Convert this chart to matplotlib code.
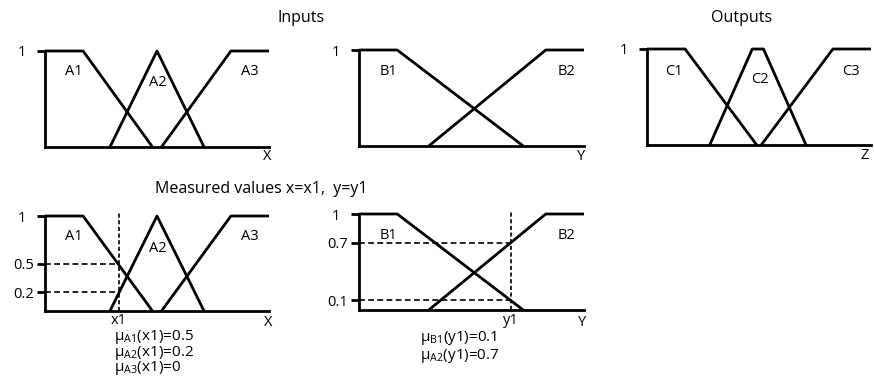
import matplotlib.pyplot as plt

plt.rcParams["font.family"] = ["Open Sans", "DejaVu Sans"]
plt.rcParams["mathtext.fontset"] = "custom"
plt.rcParams["mathtext.rm"] = "Open Sans"
plt.rcParams["font.size"] = 10.5

W, H = 874, 381
LW = 2.0

# membership functions, breakpoints on a 0..10 universe
a1_x, a1_y = [0, 1.7, 4.8], [1, 1, 0]
a2_x, a2_y = [2.9, 5.0, 7.1], [0, 1, 0]
a3_x, a3_y = [5.2, 8.3, 10], [0, 1, 1]

b1_x, b1_y = [0, 1.7, 7.3], [1, 1, 0]
b2_x, b2_y = [3.1, 8.3, 10], [0, 1, 1]

c1_x, c1_y = [0, 1.7, 4.9], [1, 1, 0]
c2_x, c2_y = [2.8, 4.7, 5.2, 7.1], [0, 1, 1, 0]
c3_x, c3_y = [5.1, 8.3, 10], [0, 1, 1]

# measured values
x1 = 3.3
y1 = 6.75
x1_levels = [0.5, 0.2]
y1_levels = [0.7, 0.1]
x1_text = [r"μ$_{\mathrm{A1}}$(x1)=0.5", r"μ$_{\mathrm{A2}}$(x1)=0.2", r"μ$_{\mathrm{A3}}$(x1)=0"]
y1_text = [r"μ$_{\mathrm{B1}}$(y1)=0.1", r"μ$_{\mathrm{A2}}$(y1)=0.7"]

fig = plt.figure(figsize=(W / 100, H / 100), dpi=100)


def panel(left, right, top, bottom, levels=()):
    ax = fig.add_axes([left / W, 1 - bottom / H, (right - left) / W, (bottom - top) / H])
    ax.set_xlim(0, 10)
    ax.set_ylim(0, 1)
    ax.patch.set_visible(False)
    ax.spines["top"].set_visible(False)
    ax.spines["right"].set_visible(False)
    ax.spines["left"].set_linewidth(LW)
    ax.spines["bottom"].set_linewidth(LW)
    ax.set_xticks([])
    ax.set_yticks(list(levels), labels=[str(v) for v in levels])
    ax.set_yticks([1], labels=["1"], minor=True)
    ax.tick_params(axis="y", which="both", length=5.8, width=LW, labelsize=10.5)
    ax.tick_params(axis="y", which="major", pad=2)
    ax.tick_params(axis="y", which="minor", pad=8)
    return ax


def draw(ax, xs, ys):
    ax.plot(xs, ys, color="black", lw=LW, clip_on=False, solid_capstyle="butt")


def lbl(ax, x, y, s, dx, dy):
    ax.annotate(s, xy=(x, y), xytext=(dx, -dy), textcoords="offset pixels",
                ha="center", va="center", fontsize=10.5)


# top row
ax1 = panel(45, 269, 51, 147)
for xs, ys in [(a1_x, a1_y), (a2_x, a2_y), (a3_x, a3_y)]:
    draw(ax1, xs, ys)
ax1.text(1.3, 0.79, "A1", ha="center", va="center")
ax1.text(5.04, 0.67, "A2", ha="center", va="center")
ax1.text(9.15, 0.79, "A3", ha="center", va="center")
lbl(ax1, 10, 0, "X", -2, 10)

ax2 = panel(359, 584, 50, 146)
for xs, ys in [(b1_x, b1_y), (b2_x, b2_y)]:
    draw(ax2, xs, ys)
ax2.text(1.33, 0.78, "B1", ha="center", va="center")
ax2.text(9.2, 0.78, "B2", ha="center", va="center")
lbl(ax2, 10, 0, "Y", -3, 11)

ax3 = panel(647, 871, 49, 145)
for xs, ys in [(c1_x, c1_y), (c2_x, c2_y), (c3_x, c3_y)]:
    draw(ax3, xs, ys)
ax3.text(1.2, 0.77, "C1", ha="center", va="center")
ax3.text(5.04, 0.68, "C2", ha="center", va="center")
ax3.text(9.1, 0.77, "C3", ha="center", va="center")
lbl(ax3, 10, 0, "Z", -6, 10)

# bottom row
ax4 = panel(45, 269, 216, 311, x1_levels)
for xs, ys in [(a1_x, a1_y), (a2_x, a2_y), (a3_x, a3_y)]:
    draw(ax4, xs, ys)
ax4.text(1.3, 0.78, "A1", ha="center", va="center")
ax4.text(5.04, 0.66, "A2", ha="center", va="center")
ax4.text(9.15, 0.78, "A3", ha="center", va="center")
ax4.plot([x1, x1], [0, 1.04], color="black", lw=1.2, ls=(0, (2.5, 1.5)), clip_on=False)
for v in x1_levels:
    ax4.plot([0, x1], [v, v], color="black", lw=1.2, ls=(0, (3.5, 2)), clip_on=False)
lbl(ax4, x1, 0, "x1", 0, 10)
lbl(ax4, 10, 0, "X", -1, 11)
ax4.annotate("\n".join(x1_text), xy=(x1, 0), xytext=(-5, -17), textcoords="offset pixels",
             ha="left", va="top", fontsize=11, linespacing=0.8)

ax5 = panel(359, 584, 214, 310, y1_levels)
for xs, ys in [(b1_x, b1_y), (b2_x, b2_y)]:
    draw(ax5, xs, ys)
ax5.text(1.33, 0.78, "B1", ha="center", va="center")
ax5.text(9.2, 0.78, "B2", ha="center", va="center")
ax5.plot([y1, y1], [0, 1.03], color="black", lw=1.2, ls=(0, (2.5, 1.5)), clip_on=False)
for v in y1_levels:
    ax5.plot([0, y1], [v, v], color="black", lw=1.2, ls=(0, (3.5, 2)), clip_on=False)
lbl(ax5, y1, 0, "y1", 0, 11)
lbl(ax5, 10, 0, "Y", -2, 12)
ax5.annotate("\n".join(y1_text), xy=(y1, 0), xytext=(-91, -19), textcoords="offset pixels",
             ha="left", va="top", fontsize=11, linespacing=0.98)

fig.text(301 / W, 1 - 18 / H, "Inputs", ha="center", va="center", fontsize=11.5)
fig.text(742 / W, 1 - 18 / H, "Outputs", ha="center", va="center", fontsize=11.5)
fig.text(261 / W, 1 - 189 / H, "Measured values x=x1,  y=y1", ha="center", va="center", fontsize=11.5)

fig.savefig("out.png", dpi=100)
